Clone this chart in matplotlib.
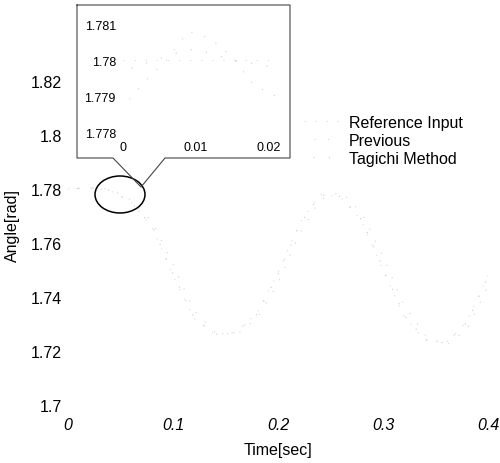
import matplotlib.pyplot as plt
from matplotlib.lines import Line2D
from matplotlib.patches import Ellipse

plt.rcParams["font.family"] = ["Liberation Sans", "DejaVu Sans"]

# ---------------- data ----------------
t = [0.00, 0.02, 0.04, 0.06, 0.08, 0.10, 0.12, 0.14, 0.16, 0.18, 0.20,
     0.22, 0.24, 0.26, 0.28, 0.30, 0.32, 0.34, 0.36, 0.38, 0.40]
ref_input = [1.7800, 1.7805, 1.7795, 1.7750, 1.7660, 1.7480, 1.7320, 1.7260,
             1.7270, 1.7340, 1.7490, 1.7670, 1.7780, 1.7770, 1.7680, 1.7500,
             1.7330, 1.7240, 1.7230, 1.7310, 1.7480]
previous = [1.7800, 1.7805, 1.7800, 1.7760, 1.7680, 1.7520, 1.7350, 1.7270,
            1.7260, 1.7320, 1.7450, 1.7630, 1.7760, 1.7790, 1.7710, 1.7550,
            1.7370, 1.7260, 1.7220, 1.7280, 1.7440]
tagichi = [1.7800, 1.7804, 1.7796, 1.7752, 1.7663, 1.7485, 1.7325, 1.7262,
           1.7268, 1.7336, 1.7484, 1.7664, 1.7778, 1.7772, 1.7684, 1.7506,
           1.7334, 1.7242, 1.7229, 1.7306, 1.7475]

# zoomed window near t = 0
t_zoom = [0.000, 0.003, 0.006, 0.009, 0.012, 0.015, 0.018, 0.021]
ref_zoom = [1.7800, 1.7800, 1.7800, 1.7800, 1.7800, 1.7800, 1.7800, 1.7800]
prev_zoom = [1.7787, 1.7794, 1.7800, 1.7808, 1.7806, 1.7801, 1.7793, 1.7790]
tag_zoom = [1.7797, 1.7799, 1.7801, 1.7803, 1.7802, 1.7800, 1.7799, 1.7798]

labels = ["Reference Input", "Previous", "Tagichi Method"]
x_ticks = [0, 0.1, 0.2, 0.3, 0.4]
y_ticks = [1.70, 1.72, 1.74, 1.76, 1.78, 1.80, 1.82]
zoom_x_ticks = [0, 0.01, 0.02]
zoom_y_ticks = [1.778, 1.779, 1.780, 1.781]

# the scan left these curves as very faint, sparse dots
styles = [
    dict(color="#dcdcdc", linestyle=(0, (1, 9)), linewidth=0.8),
    dict(color="#d4d4d4", linestyle=(3, (1, 11)), linewidth=0.8),
    dict(color="#cccccc", linestyle=(6, (1, 13)), linewidth=0.8),
]

W, H = 500, 464
fig = plt.figure(figsize=(5, 4.64), dpi=100)


def fx(px):
    return px / W


def fy(py):
    return 1 - py / H


# ---------------- main axes ----------------
ax = fig.add_axes([fx(68), fy(406), fx(420), (406 - 41.5) / H])
for ys, st, lab in zip([ref_input, previous, tagichi], styles, labels):
    ax.plot(t, ys, label=lab, **st)
ax.set_xlim(0, 0.4)
ax.set_ylim(1.70, 1.835)
ax.set_xticks(x_ticks)
ax.set_xticklabels([f"{v:g}" for v in x_ticks], fontstyle="italic")
ax.set_yticks(y_ticks)
ax.set_yticklabels([f"{v:g}" for v in y_ticks])
for s in ax.spines.values():
    s.set_visible(False)
ax.tick_params(axis="both", length=0, labelsize=11.5)
ax.tick_params(axis="y", pad=4.5)
ax.tick_params(axis="x", pad=8.5)

fig.text(fx(12), fy(225), "Angle[rad]", rotation=90, ha="center", va="center",
         fontsize=11.5)
fig.text(fx(278), fy(451), "Time[sec]", ha="center", va="center", fontsize=11.5)

ax.legend(loc="upper left", bbox_to_anchor=(fx(304), fy(116)),
          bbox_transform=fig.transFigure, frameon=False, fontsize=11.5,
          handlelength=2.2, handletextpad=0.6, labelspacing=0.18,
          borderpad=0, borderaxespad=0)

# ---------------- zoom inset ----------------
axz = fig.add_axes([fx(120), fy(137), fx(165), 122 / H])
for ys, st in zip([ref_zoom, prev_zoom, tag_zoom], styles):
    axz.plot(t_zoom, ys, **st)
axz.set_xlim(-0.0004, 0.0223)
axz.set_ylim(1.77789, 1.78128)
axz.set_xticks(zoom_x_ticks)
axz.set_xticklabels([f"{v:g}" for v in zoom_x_ticks])
axz.set_yticks(zoom_y_ticks)
axz.set_yticklabels([f"{v:g}" for v in zoom_y_ticks])
for s in axz.spines.values():
    s.set_visible(False)
axz.patch.set_alpha(0)
axz.tick_params(axis="both", length=0, labelsize=9)
axz.tick_params(axis="y", pad=3)
axz.tick_params(axis="x", pad=3.5)

# callout box outline
bx = [77, 290, 290, 165, 141, 113, 77, 77]
by = [6, 6, 159, 159, 188, 159, 159, 6]
fig.add_artist(Line2D([fx(v) for v in bx], [fy(v) for v in by],
                      transform=fig.transFigure, color="#444444",
                      linewidth=0.8))
fig.add_artist(Ellipse((fx(120), fy(195.5)), fx(50), 37 / H,
                       transform=fig.transFigure, fill=False,
                       edgecolor="black", linewidth=1.1))

fig.savefig("out.png", dpi=100)
